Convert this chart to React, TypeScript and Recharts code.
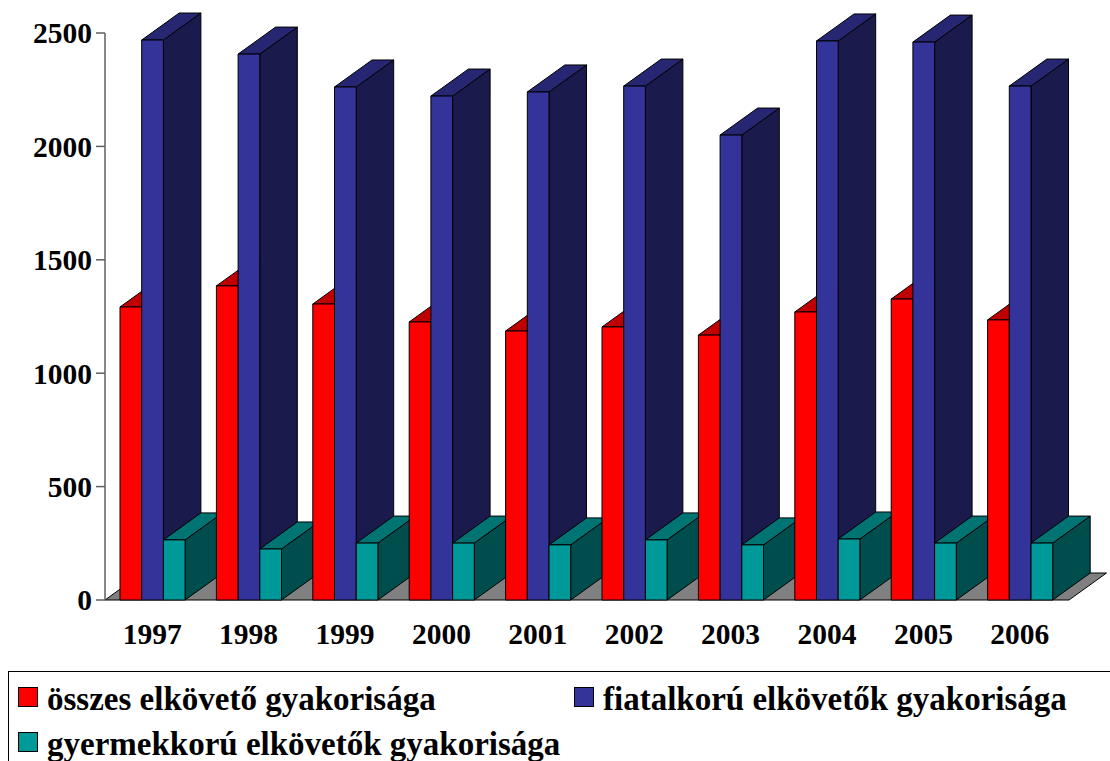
import { BarChart, Bar, XAxis, YAxis, Legend, usePlotArea } from "recharts";

const YEARS = ["1997", "1998", "1999", "2000", "2001", "2002", "2003", "2004", "2005", "2006"];
const OSSZES = [1292, 1385, 1305, 1226, 1186, 1204, 1168, 1270, 1327, 1235];
const FIATALKORU = [2469, 2407, 2262, 2222, 2240, 2266, 2050, 2465, 2460, 2266];
const GYERMEKKORU = [265, 225, 251, 251, 243, 265, 243, 269, 251, 251];
const Y_TICKS = [0, 500, 1000, 1500, 2000, 2500];
const SERIES_NAMES = ["összes elkövető gyakorisága", "fiatalkorú elkövetők gyakorisága", "gyermekkorú elkövetők gyakorisága"];
const SERIES_COLORS = ["#FF0000", "#333399", "#009999"];

const data = YEARS.map((year, i) => ({
  year,
  osszes: OSSZES[i],
  fiatalkoru: FIATALKORU[i],
  gyermekkoru: GYERMEKKORU[i],
}));

const FONT = '"Liberation Serif", serif';
const DX = 37.5;
const DY = -27;

// bars have no real depth in recharts, so the side and top faces are drawn by hand
function depthShape(side: string, top: string) {
  return (props: any) => {
    const { x, y, width, height } = props;
    const r = x + width;
    const b = y + height;
    return (
      <g stroke="#000" strokeWidth={1} strokeLinejoin="round">
        <polygon fill={side} points={`${r},${y} ${r + DX},${y + DY} ${r + DX},${b + DY} ${r},${b}`} />
        <polygon fill={top} points={`${x},${y} ${x + DX},${y + DY} ${r + DX},${y + DY} ${r},${y}`} />
      </g>
    );
  };
}

function Floor() {
  const plot = usePlotArea();
  if (!plot) return null;
  const left = plot.x;
  const right = plot.x + plot.width;
  const bottom = plot.y + plot.height;
  return (
    <polygon
      fill="#808080"
      stroke="#000"
      strokeWidth={1}
      points={`${left},${bottom} ${left + DX},${bottom + DY} ${right + DX},${bottom + DY} ${right},${bottom}`}
    />
  );
}

function LegendBox() {
  return (
    <div
      style={{
        boxSizing: "border-box",
        width: 1110,
        height: 100,
        borderTop: "1.5px solid #000",
        borderLeft: "1.5px solid #000",
        display: "grid",
        gridTemplateColumns: "556px 1fr",
        gridAutoRows: "45px",
        paddingLeft: 9,
        paddingTop: 2,
        fontFamily: FONT,
        fontWeight: "bold",
        fontSize: 33,
        color: "#000",
      }}
    >
      {SERIES_NAMES.map((name, i) => (
        <div key={name} style={{ display: "flex", alignItems: "center", whiteSpace: "nowrap" }}>
          <span
            style={{
              boxSizing: "border-box",
              width: 20,
              height: 20,
              marginRight: 9,
              background: SERIES_COLORS[i],
              border: "1px solid #000",
            }}
          />
          <span style={{ position: "relative", top: 3 }}>{name}</span>
        </div>
      ))}
    </div>
  );
}

export default function App() {
  return (
    <div style={{ position: "fixed", left: 0, top: 0, width: 1110, height: 761, overflow: "hidden", background: "#fff" }}>
      <BarChart
        width={1110}
        height={761}
        data={data}
        margin={{ top: 33, right: 41, bottom: 0, left: 0 }}
        barSize={21.7}
        barGap={0}
      >
        <Floor />
        <XAxis xAxisId="back" dataKey="year" hide padding={{ left: -1, right: 1 }} />
        <XAxis
          xAxisId="front"
          dataKey="year"
          height={161}
          axisLine={false}
          tickLine={false}
          interval={0}
          padding={{ left: -1, right: 1 }}
          tickSize={0}
          tickMargin={0}
          tick={{ fill: "#000", fontFamily: FONT, fontWeight: "bold", fontSize: 29.5, dy: -7 }}
        />
        <YAxis
          width={105}
          domain={[0, 2500]}
          ticks={Y_TICKS}
          interval={0}
          axisLine={{ stroke: "#5f5f5f", strokeWidth: 1.5 }}
          tickLine={{ stroke: "#5f5f5f", strokeWidth: 1.5 }}
          tickSize={9}
          tickMargin={4}
          tick={{ fill: "#000", fontFamily: FONT, fontWeight: "bold", fontSize: 29.5 }}
        />
        <Legend
          verticalAlign="middle"
          layout="horizontal"
          content={<LegendBox />}
          wrapperStyle={{ position: "absolute", left: 8, top: 671, width: 1102, margin: 0 }}
        />

        <Bar xAxisId="back" dataKey="osszes" legendType="none" isAnimationActive={false} shape={depthShape("#800000", "#C00000")} />
        <Bar xAxisId="back" dataKey="fiatalkoru" legendType="none" isAnimationActive={false} shape={depthShape("#1A1A4D", "#262673")} />
        <Bar xAxisId="back" dataKey="gyermekkoru" legendType="none" isAnimationActive={false} shape={depthShape("#004D4D", "#007373")} />

        <Bar xAxisId="front" dataKey="osszes" fill="#FF0000" stroke="#000" isAnimationActive={false} />
        <Bar xAxisId="front" dataKey="fiatalkoru" fill="#333399" stroke="#000" isAnimationActive={false} />
        <Bar xAxisId="front" dataKey="gyermekkoru" fill="#009999" stroke="#000" isAnimationActive={false} />
      </BarChart>
    </div>
  );
}
